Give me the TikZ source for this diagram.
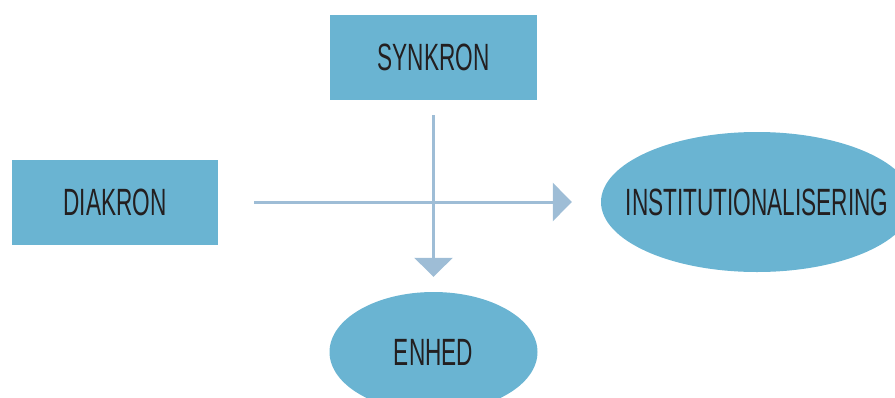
\documentclass[tikz,border=0pt]{standalone}
\usepackage{fontspec}
\setmainfont{Liberation Sans}
\usepackage{tikz}
\usetikzlibrary{arrows.meta, positioning, shapes.geometric}

\definecolor{boxblue}{RGB}{106,180,210}
\definecolor{arrowblue}{RGB}{158,189,214}
\definecolor{inkdark}{RGB}{35,31,32}

\newcommand{\narrowtext}[1]{\makebox[0pt]{\scalebox{0.595}[1]{#1}}}

\tikzset{
  conceptbox/.style={rectangle, fill=boxblue, draw=none, inner sep=0pt, text=inkdark,
                     font=\fontsize{38}{40}\selectfont},
  conceptoval/.style={ellipse, fill=boxblue, draw=none, inner sep=0pt, text=inkdark,
                      font=\fontsize{38}{40}\selectfont},
  flowarrow/.style={draw=arrowblue, line width=3pt, -{Triangle[length=19pt, width=38pt]}}
}

\begin{document}
\begin{tikzpicture}[x=1pt, y=-1pt]

\useasboundingbox (0,0) rectangle (895,397);

% concepts
\node [conceptbox , minimum width=207pt, minimum height=85pt ] (synkron) at (433.5, 57.5) {\narrowtext{SYNKRON}};
\node [conceptbox , minimum width=206pt, minimum height=85pt ] (diakron) at (115, 202)    {\narrowtext{DIAKRON}};
\node [conceptoval, minimum width=312pt, minimum height=140pt] (inst)    at (757, 202)    {\narrowtext{INSTITUTIONALISERING}};
\node [conceptoval, minimum width=208pt, minimum height=120pt] (enhed)   at (433.5, 352)  {\narrowtext{ENHED}};

\path [flowarrow, shorten <=36pt, shorten >=29pt] (diakron.east)  -- (inst.west);
\path [flowarrow, shorten <=15pt, shorten >=15pt] (synkron.south) -- (enhed.north);

\end{tikzpicture}
\end{document}
